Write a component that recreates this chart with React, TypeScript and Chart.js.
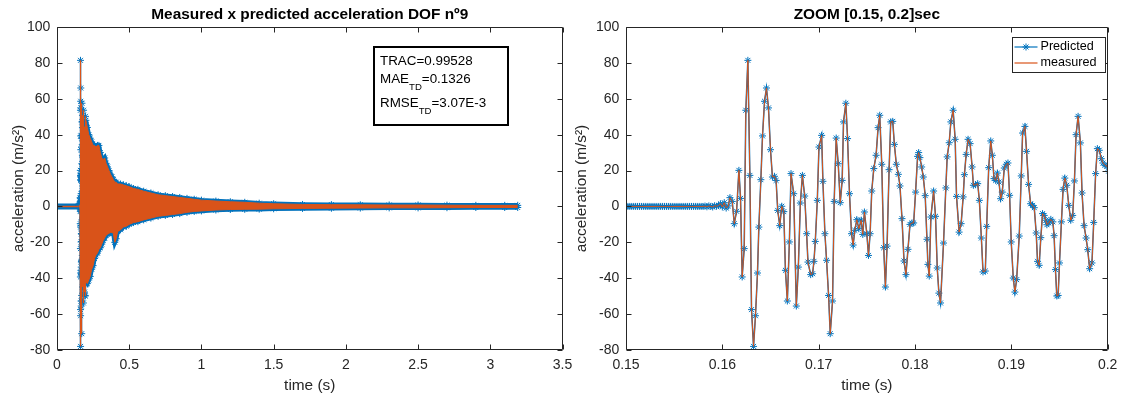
import React, { useEffect, useRef } from "react";
import { Chart, registerables } from "chart.js";

Chart.register(...registerables);

// ---------------- styling constants ----------------
const BLUE = "#0072BD";
const ORANGE = "#D95319";
const AXIS_COLOR = "#262626";
const FONT = "'Liberation Sans', Arimo, Arial, Helvetica, sans-serif";

// ---------------- tick values / labels ----------------
const yTickValues = [-80, -60, -40, -20, 0, 20, 40, 60, 80, 100];
const yTickLabels = ["-80", "-60", "-40", "-20", "0", "20", "40", "60", "80", "100"];
const fullTimeTicks = [0, 0.5, 1, 1.5, 2, 2.5, 3, 3.5];
const fullTimeTickLabels = ["0", "0.5", "1", "1.5", "2", "2.5", "3", "3.5"];
const zoomTimeTicks = [0.15, 0.16, 0.17, 0.18, 0.19, 0.2];
const zoomTimeTickLabels = ["0.15", "0.16", "0.17", "0.18", "0.19", "0.2"];

// ---------------- titles / labels ----------------
const leftTitle = "Measured x predicted acceleration DOF nº9";
const rightTitle = "ZOOM [0.15, 0.2]sec";
const xAxisTitle = "time (s)";
const yAxisTitle = "acceleration (m/s²)";
const seriesLabels = ["Predicted", "measured"];
const metricNames = ["TRAC", "MAE", "RMSE"];
const metricSubscripts = ["", "TD", "TD"];
const metricValues = ["0.99528", "0.1326", "3.07E-3"];

// ---------------- data ----------------
// quiet part before the event
const preEventTime = [0, 0.15];
const preEventAccel = [0, 0];

// quiet samples of the zoom window, 5 kHz sampling from 0.15 s
const baselineStart = 0.15;
const sampleStep = 0.0002;
const baselineAccel = [
  0, 0, 0, 0, 0, 0, 0, 0, 0, 0,
  0, 0, 0, 0, 0, 0, 0, 0, 0, 0,
  0, 0, 0, 0, 0, 0, 0, 0, 0, 0,
  0, 0, 0, 0, 0, 0, 0, 0, 0, 0,
  0, 0.2, -0.2, 0.3, 0, -0.3, 0.4, 0.1,
  0.5, 1.5, -0.3, 2.1, -0.9,
];

// event samples inside the zoom window
const eventTime = [
  0.16062, 0.16079, 0.16103, 0.16124, 0.16148, 0.16172, 0.16189, 0.16206, 0.16227, 0.16244,
  0.16265, 0.16286, 0.16303, 0.16324, 0.16344, 0.16365, 0.16379, 0.164, 0.16417, 0.16438,
  0.16458, 0.16479, 0.165, 0.1652, 0.16541, 0.16558, 0.16575, 0.16596, 0.16617, 0.16638,
  0.16655, 0.16675, 0.16696, 0.16713, 0.16741, 0.16768, 0.16789, 0.1681, 0.16831, 0.16855,
  0.16875, 0.16889, 0.16917, 0.16937, 0.16951, 0.16965, 0.16986, 0.17003, 0.17031, 0.17044,
  0.17065, 0.17082, 0.17103, 0.1712, 0.17144, 0.17161, 0.17182, 0.17203, 0.17224, 0.17244,
  0.17258, 0.17282, 0.173, 0.1732, 0.17341, 0.17358, 0.17375, 0.17396,
  0.17417, 0.17441, 0.17458, 0.17475, 0.175, 0.17517, 0.17534, 0.17551, 0.17572, 0.17596,
  0.17617, 0.17634, 0.17655, 0.17675, 0.17693, 0.1771, 0.17731, 0.17748, 0.17769, 0.17786,
  0.17806, 0.17827, 0.17844, 0.17865, 0.17886, 0.17906, 0.17927, 0.17948, 0.17969, 0.17986,
  0.18006, 0.18027, 0.18038, 0.18051, 0.18069, 0.18086, 0.18106, 0.18124, 0.18134, 0.18148,
  0.18165, 0.18193, 0.18213, 0.18231, 0.18248, 0.18265, 0.18296, 0.1832, 0.18334, 0.18355,
  0.18372, 0.18396, 0.18417, 0.18431, 0.18458, 0.18479, 0.185, 0.18513, 0.18531, 0.18551,
  0.18572, 0.18593, 0.18606, 0.18627, 0.18651, 0.18668, 0.18689, 0.18706, 0.1873, 0.18744,
  0.18765, 0.18786, 0.18803, 0.1882, 0.18838, 0.18855, 0.18872, 0.18889, 0.18906, 0.18927,
  0.18948, 0.18965, 0.18982, 0.18999, 0.1902, 0.19037, 0.19055, 0.19082, 0.19103, 0.19117,
  0.19141, 0.19158, 0.19179, 0.192, 0.1922, 0.19238, 0.19258, 0.19272, 0.19289, 0.19306,
  0.19324, 0.19341, 0.19358, 0.19369, 0.19389, 0.1941, 0.19431, 0.19444, 0.19458, 0.19472,
  0.19486, 0.195, 0.1952, 0.19537, 0.19555, 0.19575, 0.19596, 0.19617, 0.19637, 0.19655,
  0.19672, 0.19693, 0.19717, 0.19734, 0.19755, 0.19776, 0.19793, 0.19813, 0.19837, 0.19855,
  0.19875, 0.19893, 0.19913, 0.19934, 0.19951, 0.19972, 0.19993, 0.2001,
];
const eventAccel = [
  0.3, 4.9, 2.8, -9.6, -2.7, 20.1, 4.5, -39.3, -23.5, 53.6,
  81.4, 17.3, -57.5, -78.0, -60.9, -37.1, -11.5, 14.9, 39.3, 58.6,
  66.0, 54.9, 31.6, 16.4, 16.8, 14.5, -2.2, -10.7, 0.1, -2.9,
  -35.6, -52.7, -19.8, 18.3, 7.1, -55.5, -33.8, 1.9, 17.3, 5.8,
  -15.2, -31.0, -38.0, -37.5, -30.6, -19.5, 3.4, 33.1, 39.6, 14.0,
  -15.2, -30.0, -49.6, -70.9, -52.7, 2.8, 38.1, 23.8, 2.1, 14.5,
  47.1, 57.5, 37.8, 7.1, -15.2, -21.5, -13.3, -7.4,
  -12.4, -7.7, -15.6, -3.1, -15.2, -27.3, -15.2, 8.6, 21.1, 28.5,
  43.9, 50.8, 23.5, -23.0, -44.9, -22.1, 20.5, 47.1, 47.4, 34.6,
  23.5, 17.9, 11.4, -6.8, -30.4, -38.0, -23.9, -10.0, -9.2, -9.2,
  8.0, 27.9, 30.0, 27.2, 22.0, 16.4, 6.0, -18.3, -32.3, -38.8,
  -5.9, 8.6, -5.5, -34.3, -48.3, -53.8, -20.4, 10.3, 27.6, 35.5,
  47.1, 53.6, 37.4, 5.6, -14.3, -9.6, 5.3, 17.7, 29.0, 37.4,
  35.0, 22.0, 11.8, 12.1, 12.7, 3.4, -17.6, -36.5, -36.0, -11.1,
  21.6, 36.5, 28.5, 15.5, 14.5, 18.6, 13.6, 4.3, 8.0, 21.4,
  23.5, 24.2, 6.2, -19.8, -39.9, -47.7, -40.8, -16.5, 17.0, 40.9,
  44.6, 30.7, 12.3, 1.5, 0.6, -0.7, -14.8, -30.6, -32.8, -17.4,
  -4.0, -5.0, -7.7, -10.2, -9.2, -7.2, -8.6, -16.3, -35.2, -49.9,
  -49.6, -31.5, -8.6, 9.5, 15.8, 11.8, 0.6, -7.7, -5.0, 14.2,
  40.0, 50.2, 35.4, 7.5, -10.7, -17.6, -24.1, -34.7, -31.5, -8.9,
  18.3, 32.2, 31.3, 26.6, 24.2, 22.9, 22.4, 19.7,
];

// decaying part of the full record: upper / lower peak envelope
const envelopeTime = [
  0.2, 0.21, 0.22, 0.23, 0.24, 0.25, 0.26, 0.27, 0.28, 0.29,
  0.3, 0.31, 0.32, 0.33, 0.34, 0.35, 0.36, 0.37, 0.38, 0.39,
  0.4, 0.41, 0.42, 0.44, 0.46, 0.48, 0.5, 0.53, 0.56, 0.6,
  0.65, 0.7, 0.75, 0.8, 0.85, 0.9, 0.95, 1.0, 1.1, 1.2,
  1.3, 1.4, 1.5, 1.7, 1.9, 2.1, 2.3, 2.5, 2.7, 2.9,
  3.1, 3.19,
];
const envelopeUpper = [
  48, 44, 40, 38, 36, 34, 34, 33, 34, 34,
  30, 27, 26, 27, 24, 22, 20, 18, 16.5, 15,
  13.5, 13.5, 12.5, 12.5, 12, 11.5, 11, 10, 9.5, 8.5,
  7.5, 6.5, 6, 5.5, 5, 4.5, 4, 3.5, 3, 2.6,
  2.3, 1.8, 1.5, 1.1, 1.0, 0.9, 0.8, 0.8, 0.7, 0.6,
  0.6, 0.6,
];
const envelopeLower = [
  -42, -43, -41, -39, -35, -33, -29, -27, -26, -24,
  -23, -21, -19, -17.5, -16, -15.5, -15, -14.5, -14.5, -15,
  -20, -18, -14, -13, -11.5, -11, -10, -9, -8.5, -7.5,
  -6.5, -5.5, -5, -4.5, -4, -3.3, -2.8, -2.5, -2, -1.7,
  -1.6, -1.5, -1.3, -1.1, -1.0, -0.9, -0.8, -0.8, -0.7, -0.6,
  -0.6, -0.6,
];

// ---------------- helpers ----------------
const toPoints = (xs: number[], ys: number[]) => xs.map((x, i) => ({ x, y: ys[i] }));
const baselinePoints = baselineAccel.map((y, i) => ({
  x: +(baselineStart + i * sampleStep).toFixed(5),
  y,
}));
const signalPoints = [...baselinePoints, ...toPoints(eventTime, eventAccel)];

const labelFor = (vals: number[], labels: string[]) => (v: any) => {
  const i = vals.findIndex((t) => Math.abs(t - Number(v)) < 1e-9);
  return i >= 0 ? labels[i] : "";
};

function drawStar(ctx: CanvasRenderingContext2D, x: number, y: number, r: number) {
  ctx.beginPath();
  for (let k = 0; k < 4; k++) {
    const a = (k * Math.PI) / 4;
    ctx.moveTo(x - r * Math.cos(a), y - r * Math.sin(a));
    ctx.lineTo(x + r * Math.cos(a), y + r * Math.sin(a));
  }
  ctx.stroke();
}

// MATLAB-like box with inward ticks on all four sides
const matlabAxes = {
  id: "matlabAxes",
  afterDraw(chart: any) {
    const { ctx, chartArea: a, scales } = chart;
    const L = Math.round(a.left) + 0.5;
    const R = Math.round(a.right) - 0.5;
    const T = Math.round(a.top) + 0.5;
    const B = Math.round(a.bottom) - 0.5;
    const len = 5;
    ctx.save();
    ctx.strokeStyle = AXIS_COLOR;
    ctx.lineWidth = 1;
    ctx.beginPath();
    ctx.rect(L, T, R - L, B - T);
    scales.x.ticks.forEach((t: any) => {
      const px = Math.round(scales.x.getPixelForValue(t.value)) + 0.5;
      ctx.moveTo(px, B);
      ctx.lineTo(px, B - len);
      ctx.moveTo(px, T);
      ctx.lineTo(px, T + len);
    });
    scales.y.ticks.forEach((t: any) => {
      const py = Math.round(scales.y.getPixelForValue(t.value)) + 0.5;
      ctx.moveTo(L, py);
      ctx.lineTo(L + len, py);
      ctx.moveTo(R, py);
      ctx.lineTo(R - len, py);
    });
    ctx.stroke();
    ctx.restore();
  },
};

const metricsBox = {
  id: "metricsBox",
  afterDraw(chart: any) {
    const { ctx, chartArea: a } = chart;
    const x0 = Math.round(a.left + 317);
    const y0 = Math.round(a.top + 20);
    const w = 134;
    const h = 78;
    ctx.save();
    ctx.fillStyle = "#ffffff";
    ctx.fillRect(x0, y0, w, h);
    ctx.lineWidth = 2;
    ctx.strokeStyle = "#000000";
    ctx.strokeRect(x0, y0, w, h);
    ctx.fillStyle = "#000000";
    ctx.textAlign = "left";
    ctx.textBaseline = "alphabetic";
    const baselines = [18, 36.3, 59.7];
    metricNames.forEach((name, i) => {
      let x = x0 + 6;
      const by = y0 + baselines[i];
      ctx.font = `13.4px ${FONT}`;
      ctx.fillText(name, x, by);
      x += ctx.measureText(name).width;
      if (metricSubscripts[i]) {
        ctx.font = `9.6px ${FONT}`;
        ctx.fillText(metricSubscripts[i], x, by + 7);
        x += ctx.measureText(metricSubscripts[i]).width;
      }
      ctx.font = `13.4px ${FONT}`;
      ctx.fillText("=" + metricValues[i], x, by);
    });
    ctx.restore();
  },
};

const zoomLegend = {
  id: "zoomLegend",
  afterDraw(chart: any) {
    const { ctx, chartArea: a } = chart;
    const w = 93;
    const h = 35;
    const x0 = Math.round(a.right - 3 - w) + 0.5;
    const y0 = Math.round(a.top + 10) + 0.5;
    ctx.save();
    ctx.fillStyle = "#ffffff";
    ctx.fillRect(x0, y0, w, h);
    ctx.strokeStyle = AXIS_COLOR;
    ctx.lineWidth = 1;
    ctx.strokeRect(x0, y0, w, h);
    const entries = [
      { label: seriesLabels[0], color: BLUE, marker: true },
      { label: seriesLabels[1], color: ORANGE, marker: false },
    ];
    entries.forEach((e, i) => {
      const cy = y0 + 9.5 + i * 16;
      ctx.strokeStyle = e.color;
      ctx.lineWidth = 1.2;
      ctx.beginPath();
      ctx.moveTo(x0 + 2, cy);
      ctx.lineTo(x0 + 25, cy);
      ctx.stroke();
      if (e.marker) {
        ctx.lineWidth = 1;
        drawStar(ctx, x0 + 13.5, cy, 3.5);
      }
      ctx.fillStyle = "#000000";
      ctx.font = `12.6px ${FONT}`;
      ctx.textAlign = "left";
      ctx.textBaseline = "middle";
      ctx.fillText(e.label, x0 + 28, cy);
    });
    ctx.restore();
  },
};

function makeScales(
  xTicks: number[],
  xLabels: string[],
  xMin: number,
  xMax: number,
  yWidth: number,
  yTitlePad: number
) {
  return {
    x: {
      type: "linear",
      min: xMin,
      max: xMax,
      afterBuildTicks: (s: any) => {
        s.ticks = xTicks.map((value) => ({ value }));
      },
      afterFit: (s: any) => {
        s.height = 51;
      },
      grid: { display: false, drawTicks: false },
      border: { display: false },
      ticks: {
        autoSkip: false,
        maxRotation: 0,
        minRotation: 0,
        padding: 6.6,
        color: AXIS_COLOR,
        font: { family: FONT, size: 14 },
        callback: labelFor(xTicks, xLabels),
      },
      title: {
        display: true,
        text: xAxisTitle,
        color: AXIS_COLOR,
        font: { family: FONT, size: 15.4 },
        padding: { top: 0, bottom: 5.8 },
      },
    },
    y: {
      type: "linear",
      min: -80,
      max: 100,
      afterBuildTicks: (s: any) => {
        s.ticks = yTickValues.map((value) => ({ value }));
      },
      afterFit: (s: any) => {
        s.width = yWidth;
      },
      grid: { display: false, drawTicks: false },
      border: { display: false },
      ticks: {
        autoSkip: false,
        padding: 6.7,
        color: AXIS_COLOR,
        font: { family: FONT, size: 14 },
        callback: labelFor(yTickValues, yTickLabels),
      },
      title: {
        display: true,
        text: yAxisTitle,
        color: AXIS_COLOR,
        font: { family: FONT, size: 15.4 },
        padding: { top: yTitlePad, bottom: 0 },
      },
    },
  };
}

function titleOptions(text: string) {
  return {
    display: true,
    text,
    color: "#000000",
    fullSize: false,
    font: { family: FONT, size: 15.4, weight: "bold" },
    padding: { top: 5.8, bottom: 2.7 },
  };
}

const predictedMarker = {
  pointStyle: "star",
  pointRadius: 3.5,
  pointBorderColor: BLUE,
  pointBackgroundColor: BLUE,
  pointBorderWidth: 1,
};

function leftConfig(): any {
  const signal = signalPoints;
  return {
    type: "line",
    data: {
      datasets: [
        { label: seriesLabels[1], data: signal, borderColor: ORANGE, borderWidth: 1.2, pointRadius: 0, fill: false, order: 0 },
        {
          label: seriesLabels[1] + " envelope",
          data: toPoints(envelopeTime, envelopeUpper),
          borderColor: ORANGE,
          backgroundColor: ORANGE,
          borderWidth: 1,
          pointRadius: 0,
          fill: "+1",
          order: 1,
        },
        { label: seriesLabels[1] + " envelope low", data: toPoints(envelopeTime, envelopeLower), borderColor: ORANGE, borderWidth: 1, pointRadius: 0, fill: false, order: 2 },
        { label: seriesLabels[1] + " pre", data: toPoints(preEventTime, preEventAccel), borderColor: ORANGE, borderWidth: 1.5, pointRadius: 0, fill: false, order: 3 },
        { label: seriesLabels[0], data: signal, borderColor: BLUE, borderWidth: 1.5, ...predictedMarker, fill: false, order: 4 },
        { label: seriesLabels[0] + " envelope", data: toPoints(envelopeTime, envelopeUpper), borderColor: BLUE, borderWidth: 4.5, ...predictedMarker, fill: false, order: 5 },
        { label: seriesLabels[0] + " envelope low", data: toPoints(envelopeTime, envelopeLower), borderColor: BLUE, borderWidth: 4.5, ...predictedMarker, fill: false, order: 6 },
        { label: seriesLabels[0] + " pre", data: toPoints(preEventTime, preEventAccel), borderColor: BLUE, borderWidth: 6, pointRadius: 0, fill: false, order: 7 },
      ],
    },
    options: {
      responsive: false,
      animation: false,
      devicePixelRatio: 1,
      events: [],
      layout: { padding: { left: 0, right: 17.5, top: 0, bottom: 0 } },
      elements: { line: { tension: 0 } },
      scales: makeScales(fullTimeTicks, fullTimeTickLabels, 0, 3.5, 57, 9.3),
      plugins: {
        legend: { display: false },
        tooltip: { enabled: false },
        title: titleOptions(leftTitle),
      },
    },
    plugins: [matlabAxes, metricsBox],
  };
}

function rightConfig(): any {
  return {
    type: "line",
    data: {
      datasets: [
        { label: seriesLabels[1], data: signalPoints, borderColor: ORANGE, borderWidth: 1, pointRadius: 0, fill: false, order: 0 },
        { label: seriesLabels[0], data: signalPoints, borderColor: BLUE, borderWidth: 1.5, ...predictedMarker, fill: false, order: 1 },
      ],
    },
    options: {
      responsive: false,
      animation: false,
      devicePixelRatio: 1,
      events: [],
      layout: { padding: { left: 0, right: 15, top: 0, bottom: 0 } },
      elements: { line: { tension: 0 } },
      scales: makeScales(zoomTimeTicks, zoomTimeTickLabels, 0.15, 0.2, 56, 2.8),
      plugins: {
        legend: { display: false },
        tooltip: { enabled: false },
        title: titleOptions(rightTitle),
      },
    },
    plugins: [matlabAxes, zoomLegend],
  };
}

export default function App() {
  const leftRef = useRef<HTMLCanvasElement>(null);
  const rightRef = useRef<HTMLCanvasElement>(null);

  useEffect(() => {
    const left = new Chart(leftRef.current as HTMLCanvasElement, leftConfig());
    const right = new Chart(rightRef.current as HTMLCanvasElement, rightConfig());
    return () => {
      left.destroy();
      right.destroy();
    };
  }, []);

  return (
    <div
      style={{
        position: "absolute",
        left: 0,
        top: 0,
        width: 1124,
        height: 401,
        background: "#ffffff",
        overflow: "hidden",
      }}
    >
      <canvas
        ref={leftRef}
        width={580}
        height={401}
        style={{ position: "absolute", left: 0, top: 0, width: 580, height: 401 }}
      />
      <canvas
        ref={rightRef}
        width={554}
        height={401}
        style={{ position: "absolute", left: 570, top: 0, width: 554, height: 401 }}
      />
    </div>
  );
}
